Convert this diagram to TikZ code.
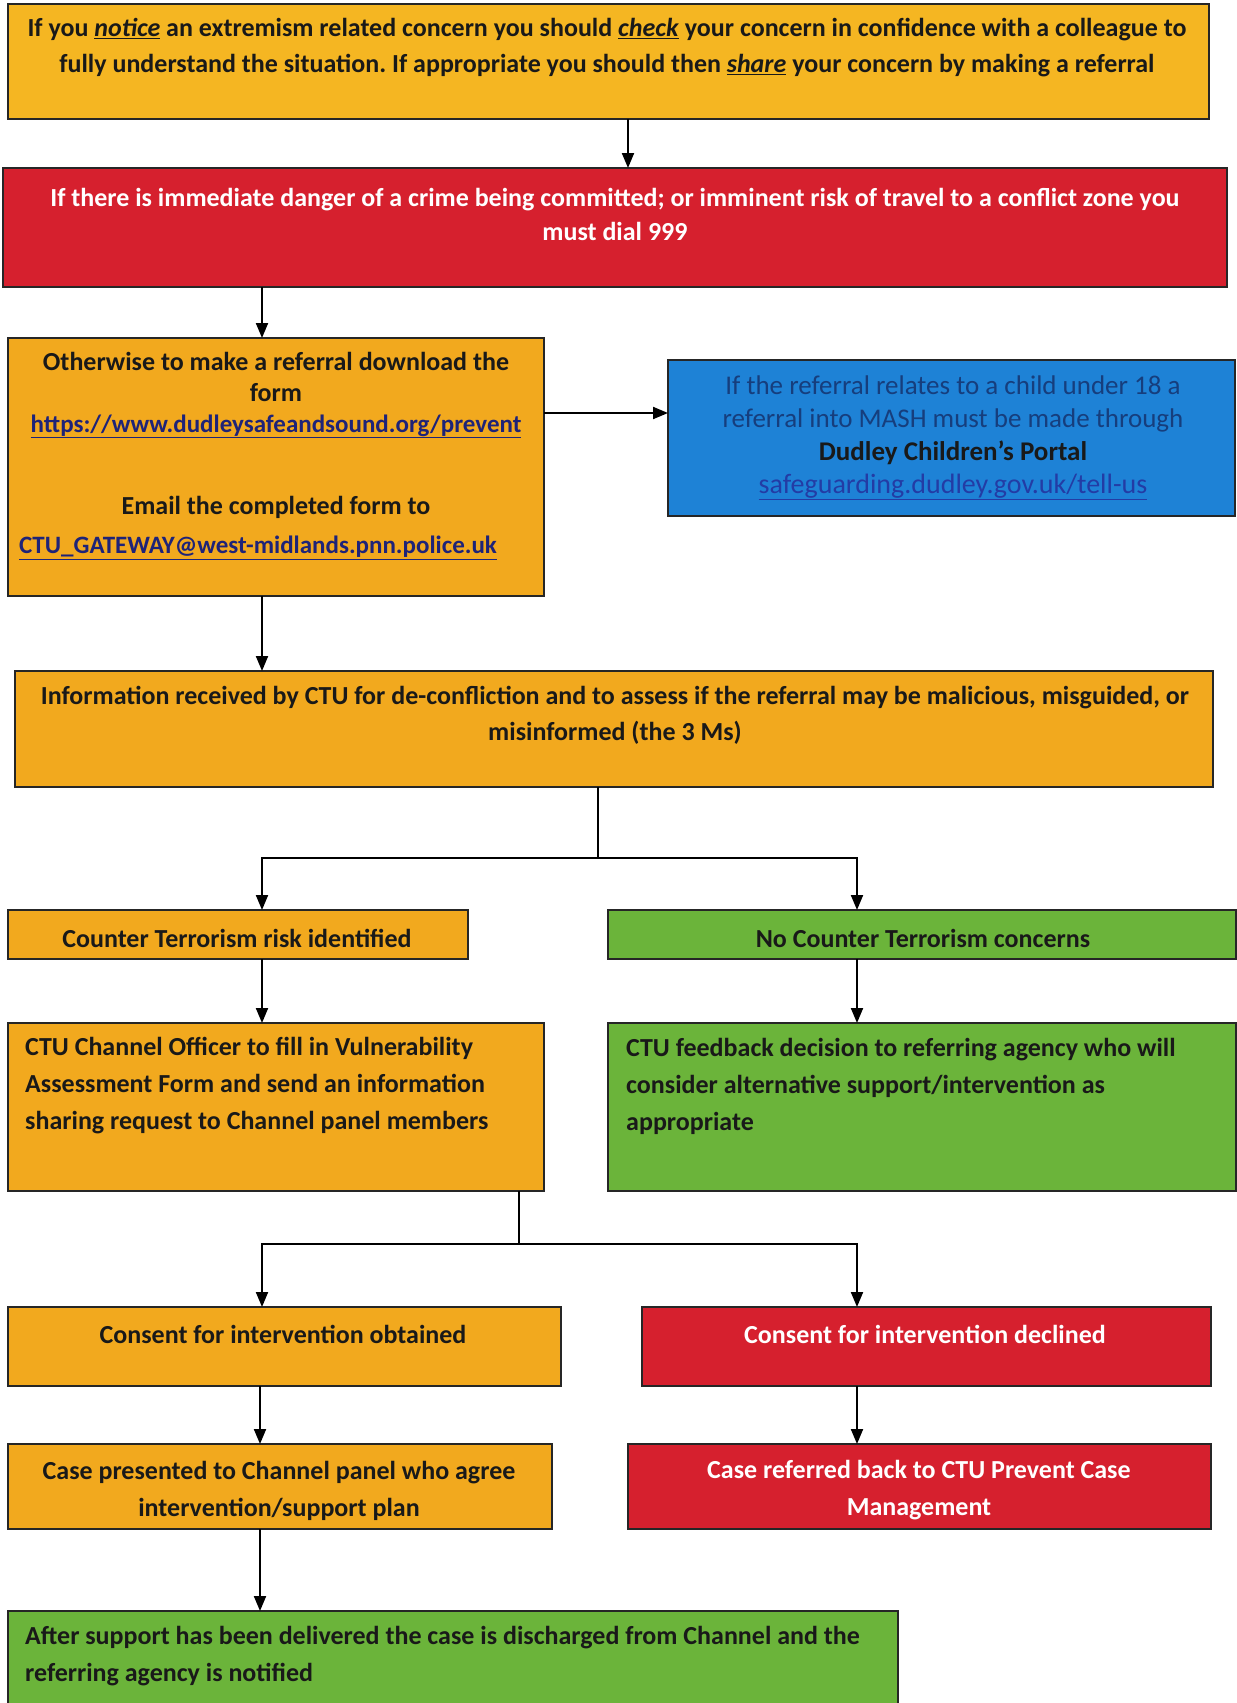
\documentclass[tikz,border=0pt]{standalone}
\usepackage{fontspec}
\setmainfont{Carlito}
\usetikzlibrary{arrows.meta}
\definecolor{cyel}{RGB}{245,182,34}
\definecolor{corg}{RGB}{242,169,30}
\definecolor{cred}{RGB}{214,32,46}
\definecolor{cblu}{RGB}{30,130,214}
\definecolor{cgrn}{RGB}{107,180,58}
\definecolor{clink}{RGB}{30,35,120}
\definecolor{cblutxt}{RGB}{22,62,125}
\definecolor{cblulink}{RGB}{35,60,165}
\definecolor{cdark}{RGB}{25,25,25}
\begin{document}
\frenchspacing
\begin{tikzpicture}[x=1pt,y=-1pt,
 box/.style={draw=black!85, line width=1.8pt, inner sep=0pt, outer sep=0pt},
 txt/.style={font=\bfseries\fontsize{26}{36}\selectfont, inner sep=0pt, align=center, text=cdark},
 ltxt/.style={txt, align=left, anchor=west},
 wtxt/.style={txt, text=white},
 arr/.style={draw=black, line width=2pt, -{Triangle[length=15pt,width=12pt]}},
 ln/.style={draw=black, line width=2pt}]
\path[use as bounding box] (0,0) rectangle (1237,1703);
\clip (0,0) rectangle (1237,1703);
\fill[white] (0,0) rectangle (1237,1703);

% boxes
\node[box, fill=cyel, minimum width=1201pt, minimum height=115pt] (b1) at (608.5,61.5) {};
\node[box, fill=cred, minimum width=1224pt, minimum height=119pt] (b2) at (615,227.5) {};
\node[box, fill=corg, minimum width=536pt, minimum height=258pt] (b3) at (276,467) {};
\node[box, fill=cblu, minimum width=567pt, minimum height=156pt] (b4) at (951.5,438) {};
\node[box, fill=corg, minimum width=1198pt, minimum height=116pt] (b5) at (614,729) {};
\node[box, fill=corg, minimum width=460pt, minimum height=49pt] (b6) at (238,934.5) {};
\node[box, fill=cgrn, minimum width=628pt, minimum height=49pt] (b7) at (922,934.5) {};
\node[box, fill=corg, minimum width=536pt, minimum height=168pt] (b8) at (276,1107) {};
\node[box, fill=cgrn, minimum width=628pt, minimum height=168pt] (b9) at (922,1107) {};
\node[box, fill=corg, minimum width=553pt, minimum height=79pt] (b10) at (284.5,1346.5) {};
\node[box, fill=cred, minimum width=569pt, minimum height=79pt] (b11) at (926.5,1346.5) {};
\node[box, fill=corg, minimum width=544pt, minimum height=85pt] (b12) at (280,1486.5) {};
\node[box, fill=cred, minimum width=583pt, minimum height=85pt] (b13) at (919.5,1486.5) {};
\node[box, fill=cgrn, minimum width=890pt, minimum height=109pt] (b14) at (453,1665.5) {};

% texts
\node[txt] (t1) at (607,48) {If you \underline{\textit{notice}} an extremism related concern you should \underline{\textit{check}} your concern in confidence with a colleague to\\ fully understand the situation. If appropriate you should then \underline{\textit{share}} your concern by making a referral};
\node[wtxt, font=\bfseries\fontsize{26}{34}\selectfont] (t2) at (615,214) {If there is immediate danger of a crime being committed; or imminent risk of travel to a conflict zone you\\ must dial 999};
\node[txt, font=\bfseries\fontsize{26}{31}\selectfont] (t3a) at (276,395) {Otherwise to make a referral download the\\ form\\ \textcolor{clink}{\fontsize{25}{31}\selectfont\underline{https://www.dudleysafeandsound.org/prevent}}};
\node[txt] (t3b) at (276,507) {Email the completed form to};
\node[txt, text=clink, font=\bfseries\fontsize{25}{31}\selectfont] (t3c) at (258,548) {\underline{CTU\_GATEWAY@west-midlands.pnn.police.uk}};
\node[txt, font=\fontsize{27}{32.7}\selectfont, text=cblutxt] (t4) at (953,438) {If the referral relates to a child under 18 a\\ referral into MASH must be made through\\ \textcolor{cdark}{\bfseries Dudley Children’s Portal}\\ \textcolor{cblulink}{\fontsize{28}{32.7}\selectfont\underline{safeguarding.dudley.gov.uk/tell-us}}};
\node[txt] (t5) at (615,715) {Information received by CTU for de-confliction and to assess if the referral may be malicious, misguided, or\\ misinformed (the 3 Ms)};
\node[txt] (t6) at (237,938) {Counter Terrorism risk identified};
\node[txt] (t7) at (923,938) {No Counter Terrorism concerns};
\node[ltxt, font=\bfseries\fontsize{26}{37}\selectfont] (t8) at (25,1086) {CTU Channel Officer to fill in Vulnerability\\ Assessment Form and send an information\\ sharing request to Channel panel members};
\node[ltxt, font=\bfseries\fontsize{26}{37}\selectfont] (t9) at (626,1086) {CTU feedback decision to referring agency who will\\ consider alternative support/intervention as\\ appropriate};
\node[txt] (t10) at (283,1334) {Consent for intervention obtained};
\node[wtxt] (t11) at (925,1334) {Consent for intervention declined};
\node[txt, font=\bfseries\fontsize{26}{37}\selectfont] (t12) at (279,1490.5) {Case presented to Channel panel who agree\\ intervention/support plan};
\node[wtxt, font=\bfseries\fontsize{26}{37}\selectfont] (t13) at (919,1490.5) {Case referred back to CTU Prevent Case\\ Management};
\node[ltxt, font=\bfseries\fontsize{26}{37}\selectfont] (t14) at (25,1656.5) {After support has been delivered the case is discharged from Channel and the\\ referring agency is notified};

% connector columns
\coordinate (xa) at (262,0);
\coordinate (xb) at (857,0);
\coordinate (xc) at (260,0);
\coordinate (x1) at (628,0);
\coordinate (x5) at (598,0);
\coordinate (x8) at (519,0);
\coordinate (y34) at (0,413);
\coordinate (j5) at (598,858);
\coordinate (j8) at (519,1244);

\draw[arr] (b1.south -| x1) -- (b2.north -| x1);
\draw[arr] (b2.south -| xa) -- (b3.north -| xa);
\draw[arr] (b3.east |- y34) -- (b4.west |- y34);
\draw[arr] (b3.south -| xa) -- (b5.north -| xa);
\draw[ln] (b5.south -| x5) -- (j5);
\draw[arr] (j5) -| (b6.north -| xa);
\draw[arr] (j5) -| (b7.north -| xb);
\draw[arr] (b6.south -| xa) -- (b8.north -| xa);
\draw[arr] (b7.south -| xb) -- (b9.north -| xb);
\draw[ln] (b8.south -| x8) -- (j8);
\draw[arr] (j8) -| (b10.north -| xa);
\draw[arr] (j8) -| (b11.north -| xb);
\draw[arr] (b10.south -| xc) -- (b12.north -| xc);
\draw[arr] (b11.south -| xb) -- (b13.north -| xb);
\draw[arr] (b12.south -| xc) -- (b14.north -| xc);
\end{tikzpicture}
\end{document}
